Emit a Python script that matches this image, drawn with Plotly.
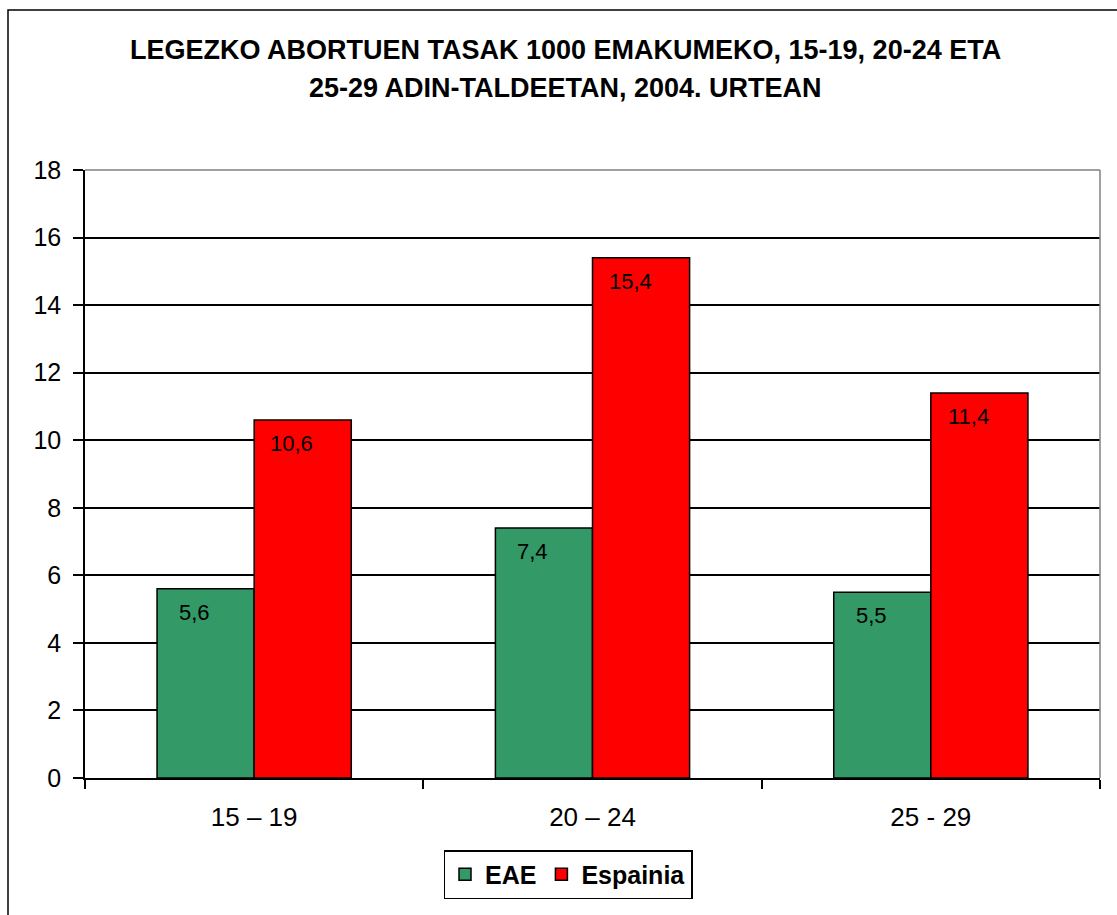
import plotly.graph_objects as go

# Abortion rates per 1000 women by age group, 2004
age_groups = ["15 – 19", "20 – 24", "25 - 29"]
eae_rates = [5.6, 7.4, 5.5]
espainia_rates = [10.6, 15.4, 11.4]
y_ticks = [0, 2, 4, 6, 8, 10, 12, 14, 16, 18]

title_lines = ["LEGEZKO ABORTUEN TASAK 1000 EMAKUMEKO, 15-19, 20-24 ETA",
               "25-29 ADIN-TALDEETAN, 2004. URTEAN"]

FONT = "Liberation Sans, Arial, sans-serif"

W, H = 1117, 915
M_L, M_R, M_T, M_B = 85, 17, 170, 137
PLOT_W = W - M_L - M_R
PLOT_H = H - M_T - M_B
BASE_Y = H - M_B
BARGAP = 0.426
BAR_PX = PLOT_W / len(age_groups) * (1 - BARGAP) / 2


def fmt(v):
    return f"{v:.1f}".replace(".", ",")


def px_x(px):
    return (px - M_L) / PLOT_W


def px_y(py):
    return (BASE_Y - py) / PLOT_H


series = [("EAE", eae_rates, "#339966", -1),
          ("Espainia", espainia_rates, "#FF0000", 1)]

fig = go.Figure()
for name, vals, color, side in series:
    fig.add_trace(go.Bar(
        name=name, x=age_groups, y=vals,
        marker=dict(color=color, line=dict(color="black", width=1.5)),
        hoverinfo="x+y",
    ))
    # value labels just inside the top of each bar
    for cat, v in zip(age_groups, vals):
        fig.add_annotation(
            x=cat, y=v, xref="x", yref="y", text=fmt(v),
            showarrow=False, yanchor="top", xanchor="center",
            xshift=side * BAR_PX / 2 - 11, yshift=-9,
            font=dict(family=FONT, size=22, color="black"),
        )

# Two-line bold title
for line, cy in zip(title_lines, [50, 88]):
    fig.add_annotation(
        x=px_x(565), y=px_y(cy), xref="paper", yref="paper",
        text=line, showarrow=False, xanchor="center", yanchor="middle",
        font=dict(family=FONT, size=27, color="black", weight="bold"),
    )

fig.update_layout(
    width=W, height=H,
    margin=dict(l=M_L, r=M_R, t=M_T, b=M_B),
    paper_bgcolor="white", plot_bgcolor="white",
    barmode="group", bargap=BARGAP, bargroupgap=0,
    font=dict(family=FONT, color="black"),
    showlegend=True,
    legend=dict(orientation="h", x=px_x(568), xanchor="center",
                y=px_y(850), yanchor="top",
                bordercolor="black", borderwidth=1.5,
                font=dict(family=FONT, size=25, color="black",
                          weight="bold"),
                traceorder="normal", itemwidth=30),
    xaxis=dict(showgrid=False, showline=True, linecolor="black",
               linewidth=1.5, ticks="outside", tickson="boundaries",
               ticklen=9, tickcolor="black", tickwidth=1.5,
               ticklabelstandoff=15,
               tickfont=dict(family=FONT, size=26, color="black")),
    yaxis=dict(range=[0, 18], tickvals=y_ticks, showgrid=True,
               gridcolor="black", gridwidth=1.5, zeroline=False,
               showline=True, linecolor="black", linewidth=1.5,
               ticks="outside", ticklen=10, tickcolor="black",
               tickwidth=1.5, ticklabelstandoff=7,
               tickfont=dict(family=FONT, size=25, color="black")),
)

# Plot-area border on the top and right sides (grey)
fig.add_shape(type="line", xref="paper", yref="paper",
              x0=0, x1=1, y0=1, y1=1,
              line=dict(color="#808080", width=1.5))
fig.add_shape(type="line", xref="paper", yref="paper",
              x0=1, x1=1, y0=0, y1=1,
              line=dict(color="#808080", width=1.5))

# Outer chart frame
fig.add_shape(type="rect", xref="paper", yref="paper",
              x0=px_x(8), x1=px_x(1130), y0=px_y(930), y1=px_y(10),
              line=dict(color="black", width=1.5))

fig.write_html("out.html")
